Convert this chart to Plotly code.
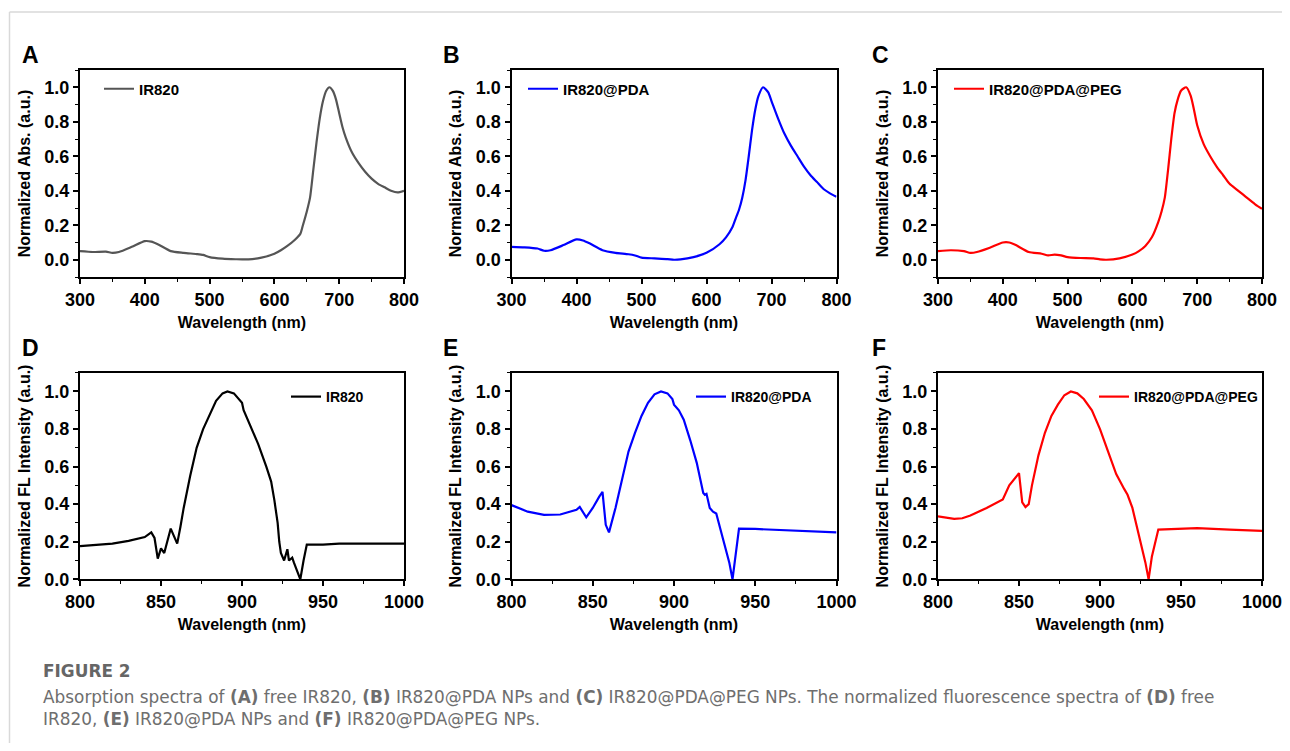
import plotly.graph_objects as go

# the page adds an 8 px body margin, so the figure is drawn smaller and positions are shifted
OFF = 8
W, H = 1290 - OFF, 751 - 2 * OFF

# absorption spectra (A-C)
wl_a = [300, 320, 340, 350, 360, 380, 400, 410, 420, 440, 460, 480, 490, 500, 520, 540, 560, 580, 600, 610,
        620, 630, 640, 644, 650, 655, 660, 665, 670, 675, 680, 685, 690, 695, 700, 705, 710, 720, 730, 740,
        750, 760, 770, 780, 790, 800]
abs_a = [0.05, 0.045, 0.047, 0.04, 0.045, 0.075, 0.108, 0.105, 0.09, 0.05, 0.04, 0.033, 0.028, 0.015, 0.006,
         0.003, 0.002, 0.012, 0.035, 0.055, 0.08, 0.11, 0.15, 0.2, 0.28, 0.36, 0.52, 0.68, 0.82, 0.92, 0.98,
         1.0, 0.98, 0.93, 0.85, 0.77, 0.71, 0.62, 0.56, 0.51, 0.47, 0.44, 0.42, 0.40, 0.39, 0.40]

wl_b = [300, 320, 340, 350, 360, 380, 400, 410, 420, 440, 460, 480, 490, 500, 520, 540, 550, 560, 580, 600,
        620, 630, 640, 645, 650, 655, 660, 665, 670, 675, 680, 687, 695, 700, 710, 720, 730, 740, 750, 760,
        770, 780, 790, 800]
abs_b = [0.075, 0.072, 0.065, 0.052, 0.055, 0.085, 0.118, 0.112, 0.095, 0.055, 0.04, 0.032, 0.025, 0.012,
         0.008, 0.004, 0.0, 0.002, 0.015, 0.04, 0.09, 0.13, 0.19, 0.24, 0.29, 0.36, 0.46, 0.6, 0.75, 0.87,
         0.95, 1.0, 0.97, 0.92, 0.82, 0.73, 0.66, 0.6, 0.54, 0.49, 0.45, 0.41, 0.385, 0.365]

wl_c = [300, 320, 340, 350, 360, 380, 400, 410, 420, 440, 460, 470, 480, 490, 500, 520, 540, 550, 560, 580,
        600, 610, 620, 630, 640, 645, 650, 655, 660, 665, 670, 675, 683, 690, 695, 700, 710, 720, 730, 740,
        750, 760, 770, 780, 790, 800]
abs_c = [0.05, 0.055, 0.05, 0.04, 0.045, 0.07, 0.1, 0.1, 0.085, 0.045, 0.035, 0.025, 0.03, 0.025, 0.015,
         0.01, 0.008, 0.002, 0.0, 0.008, 0.03, 0.05, 0.08, 0.13, 0.22, 0.28, 0.36, 0.52, 0.7, 0.85, 0.93,
         0.98, 1.0, 0.95, 0.87, 0.78, 0.67, 0.6, 0.54, 0.49, 0.44, 0.41, 0.38, 0.35, 0.32, 0.295]

# fluorescence spectra (D-F)
wl_d = [800, 820, 830, 840, 844, 846, 848, 850, 852, 856, 858, 860, 862, 864, 868, 872, 876, 880, 884, 888,
        891, 895, 898, 900, 901, 905, 910, 915, 918, 920, 922, 923, 924, 926, 928, 929, 931, 932, 935, 936,
        938, 940, 942, 950, 960, 1000]
fl_d = [0.177, 0.19, 0.205, 0.225, 0.25, 0.22, 0.11, 0.165, 0.14, 0.27, 0.23, 0.19, 0.28, 0.38, 0.55, 0.7,
        0.8, 0.88, 0.95, 0.99, 1.0, 0.99, 0.96, 0.94, 0.9, 0.82, 0.72, 0.6, 0.52, 0.42, 0.3, 0.2, 0.14, 0.1,
        0.16, 0.1, 0.115, 0.09, 0.03, 0.0, 0.1, 0.185, 0.185, 0.185, 0.19, 0.19]

wl_e = [800, 810, 820, 830, 840, 842, 846, 850, 854, 856, 858, 860, 864, 868, 872, 876, 880, 884, 888, 892,
        896, 899, 900, 903, 906, 910, 914, 918, 919, 920, 922, 924, 926, 930, 934, 936, 940, 950, 960, 980,
        1000]
fl_e = [0.395, 0.36, 0.343, 0.345, 0.37, 0.385, 0.33, 0.38, 0.44, 0.465, 0.29, 0.25, 0.38, 0.53, 0.68, 0.78,
        0.87, 0.94, 0.985, 1.0, 0.99, 0.96, 0.93, 0.9, 0.85, 0.74, 0.62, 0.46, 0.45, 0.455, 0.38, 0.36, 0.35,
        0.22, 0.09, 0.0, 0.27, 0.268, 0.265, 0.26, 0.25]

wl_f = [800, 810, 815, 820, 830, 840, 844, 850, 852, 854, 856, 858, 862, 866, 870, 874, 878, 882, 886, 890,
        895, 900, 905, 910, 915, 917, 920, 925, 928, 930, 932, 936, 950, 960, 980, 1000]
fl_f = [0.335, 0.322, 0.325, 0.34, 0.38, 0.425, 0.5, 0.565, 0.41, 0.385, 0.4, 0.5, 0.66, 0.78, 0.87, 0.93,
        0.98, 1.0, 0.99, 0.96, 0.9, 0.8, 0.68, 0.56, 0.48, 0.45, 0.38, 0.2, 0.09, 0.0, 0.12, 0.265, 0.27,
        0.272, 0.265, 0.258]

labels = ["IR820", "IR820@PDA", "IR820@PDA@PEG", "IR820", "IR820@PDA", "IR820@PDA@PEG"]
colors = ["#555555", "#0000ff", "#ff0000", "#000000", "#0000ff", "#ff0000"]
letters = ["A", "B", "C", "D", "E", "F"]
series = [(wl_a, abs_a), (wl_b, abs_b), (wl_c, abs_c), (wl_d, fl_d), (wl_e, fl_e), (wl_f, fl_f)]

# page pixel positions (converted below)
xdom = [(80, 404), (511.5, 836.5), (938, 1262)]
ydom = [(70, 277), (372.7, 579.3)]
leg_pos = [(99, 89, 15), (523, 89, 15), (949, 89, 15), (286, 397, 14), (691, 397, 14), (1094, 397, 14)]


def px(x):
    return (x - OFF) / W


def py(y):
    return 1 - (y - OFF) / H


FONT = "Liberation Sans, Arial, sans-serif"

fig = go.Figure()
layout = dict(width=W, height=H, margin=dict(l=0, r=0, t=0, b=0, autoexpand=False),
              paper_bgcolor="white", plot_bgcolor="white", showlegend=True)
annotations = []

for i in range(6):
    row, col = divmod(i, 3)
    n = "" if i == 0 else str(i + 1)
    x0, x1 = xdom[col]
    y0, y1 = ydom[row]
    wl, val = series[i]
    line = dict(color=colors[i], width=2.2)
    if row == 0:
        line.update(shape="spline", smoothing=0.6)
    fig.add_trace(go.Scatter(x=wl, y=val, mode="lines", name=labels[i], line=line,
                             xaxis="x" + n, yaxis="y" + n,
                             legend="legend" + n, hoverinfo="skip"))
    if row == 0:
        xr, xd, xm = [300, 800], 100, 50
        yr = [-0.1, 1.1]
        ytitle = "Normalized Abs. (a.u.)"
    else:
        xr, xd, xm = [800, 1000], 50, 25
        yr = [0, 1.1]
        ytitle = "Normalized FL Intensity (a.u.)"
    common = dict(showline=True, linecolor="black", linewidth=2, mirror=True,
                  ticks="outside", ticklen=5, tickwidth=1.5, tickcolor="black",
                  showgrid=False, zeroline=False, automargin=False,
                  tickfont=dict(family=FONT, size=18, color="black", weight="bold"))
    layout["xaxis" + n] = dict(common, domain=[px(x0), px(x1)], range=xr, dtick=xd, tick0=xr[0],
                               anchor="y" + n,
                               minor=dict(ticks="outside", ticklen=3, tickwidth=1.2, dtick=xm,
                                          tickcolor="black", showgrid=False),
                               title=dict(text="Wavelength (nm)", standoff=8,
                                          font=dict(family=FONT, size=16, color="black", weight="bold")))
    layout["yaxis" + n] = dict(common, domain=[py(y1), py(y0)], range=yr, dtick=0.2, tick0=0,
                               tickformat=".1f", anchor="x" + n,
                               minor=dict(ticks="outside", ticklen=3, tickwidth=1.2, dtick=0.1,
                                          tickcolor="black", showgrid=False),
                               title=dict(text=ytitle, standoff=10,
                                          font=dict(family=FONT, size=16, color="black", weight="bold")))
    lx, ly, fs = leg_pos[i]
    layout["legend" + n] = dict(x=px(lx), y=py(ly), xanchor="left", yanchor="middle",
                                bgcolor="rgba(0,0,0,0)", borderwidth=0,
                                font=dict(family=FONT, size=fs, color="black", weight="bold"))
    annotations.append(dict(text=letters[i], x=px([20, 441, 870][col]),
                            y=py(55.5 if row == 0 else 348), xref="paper", yref="paper",
                            xanchor="left", yanchor="middle", showarrow=False,
                            font=dict(family=FONT, size=23, color="black", weight="bold")))

CAP = "DejaVu Sans, Noto Sans, sans-serif"
caption = [
    ("<b>FIGURE 2</b>", 671, "#666666"),
    ("Absorption spectra of <b>(A)</b> free IR820, <b>(B)</b> IR820@PDA NPs and <b>(C)</b> IR820@PDA@PEG NPs. "
     "The normalized fluorescence spectra of <b>(D)</b> free", 697, "#6e6e6e"),
    ("IR820, <b>(E)</b> IR820@PDA NPs and <b>(F)</b> IR820@PDA@PEG NPs.", 719, "#6e6e6e"),
]
for txt, yy, c in caption:
    annotations.append(dict(text=txt, x=px(41), y=py(yy), xref="paper", yref="paper",
                            xanchor="left", yanchor="middle", showarrow=False,
                            font=dict(family=CAP, size=16.9, color=c)))

layout["annotations"] = annotations
layout["shapes"] = [
    dict(type="line", xref="paper", yref="paper", x0=px(9.5), x1=1, y0=py(12), y1=py(12),
         line=dict(color="#d9d9d9", width=1.5)),
    dict(type="line", xref="paper", yref="paper", x0=px(9.5), x1=px(9.5), y0=0, y1=py(12),
         line=dict(color="#d9d9d9", width=1.5)),
]
fig.update_layout(**layout)
fig.write_html("out.html")
